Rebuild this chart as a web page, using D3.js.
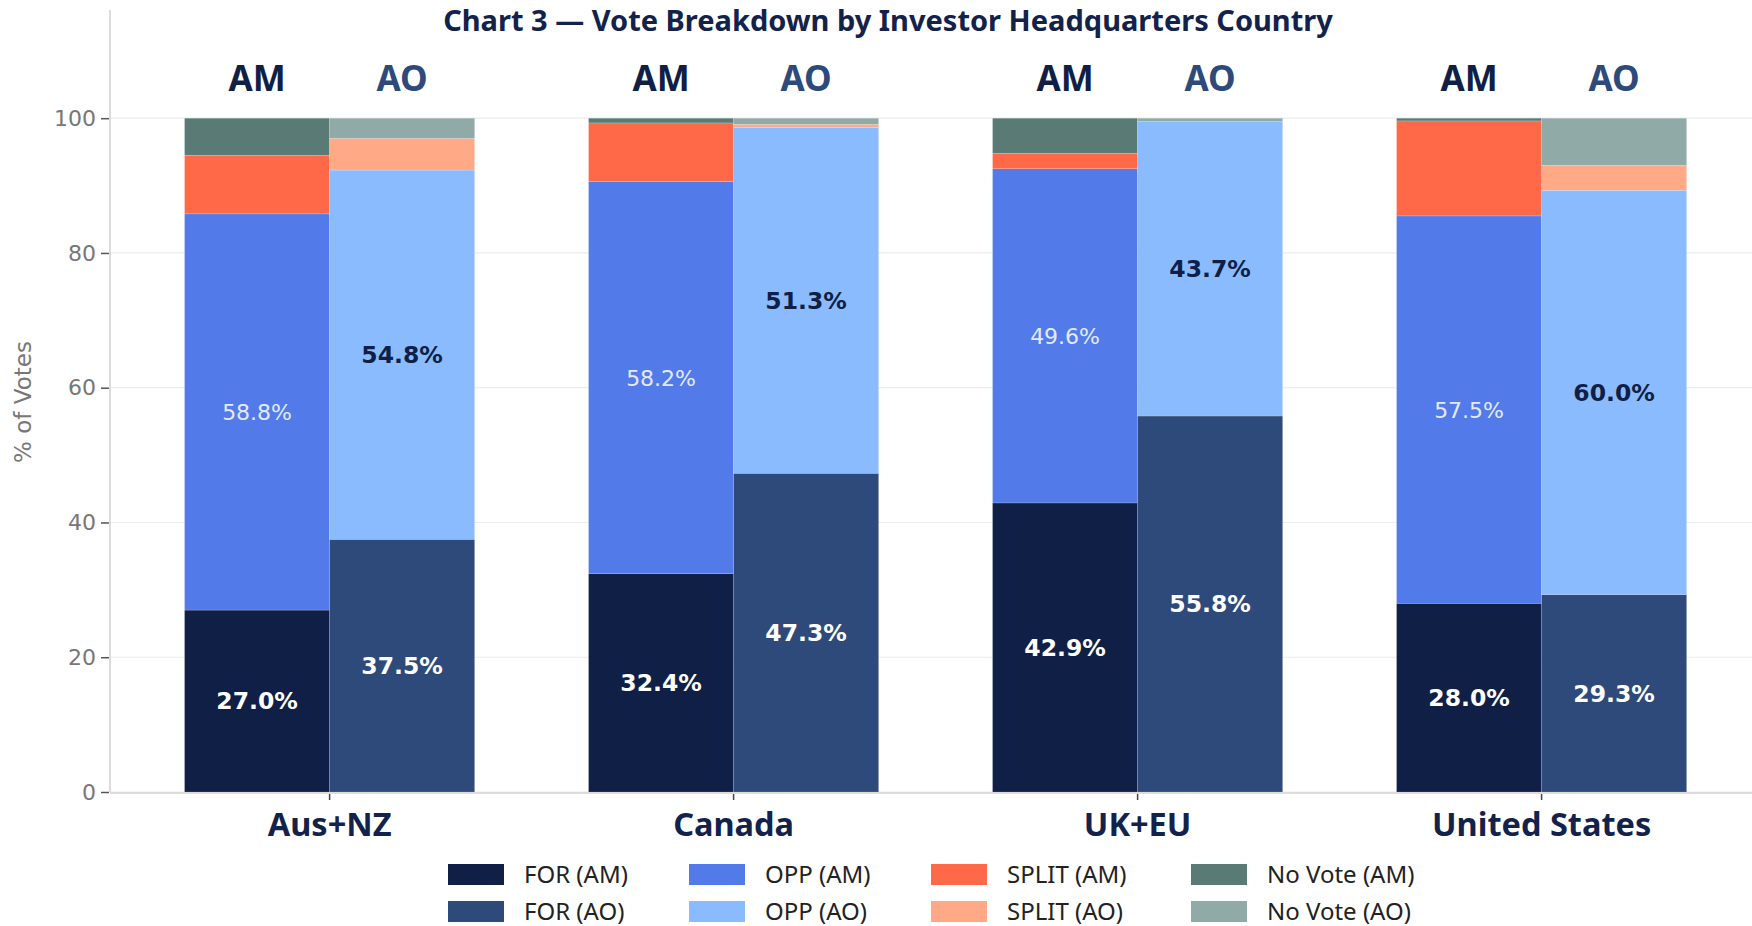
<!DOCTYPE html>
<html>
<head>
<meta charset="utf-8">
<script src="https://cdn.jsdelivr.net/npm/d3@7"></script>
<style>
  html, body { margin: 0; padding: 0; background: #ffffff; }
  svg { display: block; }
</style>
</head>
<body>
<svg id="chart" width="1752" height="926"></svg>
<script>
// Countries (x categories) and the two investor types shown side by side
const countries = ["Aus+NZ", "Canada", "UK+EU", "United States"];
const investorTypes = ["AM", "AO"];

// Vote shares (% of votes) per country, asset managers (AM)
const forAM    = [27.0, 32.4, 42.9, 28.0];
const oppAM    = [58.8, 58.2, 49.6, 57.5];
const splitAM  = [8.7, 8.7, 2.3, 14.1];
const noVoteAM = [5.5, 0.7, 5.2, 0.4];

// Vote shares (% of votes) per country, asset owners (AO)
const forAO    = [37.5, 47.3, 55.8, 29.3];
const oppAO    = [54.8, 51.3, 43.7, 60.0];
const splitAO  = [4.7, 0.5, 0.0, 3.7];
const noVoteAO = [3.0, 0.9, 0.5, 7.0];

const yTicks = [0, 20, 40, 60, 80, 100];
const legendLabels = ["FOR (AM)", "OPP (AM)", "SPLIT (AM)", "No Vote (AM)",
                      "FOR (AO)", "OPP (AO)", "SPLIT (AO)", "No Vote (AO)"];

const colors = {
  FOR:   { AM: "#0f1f45", AO: "#2e4a7a" },
  OPP:   { AM: "#527be9", AO: "#8bbbff" },
  SPLIT: { AM: "#ff6947", AO: "#ffa987" },
  NOVOTE:{ AM: "#5a7a76", AO: "#90aaa8" }
};

const series = {
  AM: [["FOR", forAM], ["OPP", oppAM], ["SPLIT", splitAM], ["NOVOTE", noVoteAM]],
  AO: [["FOR", forAO], ["OPP", oppAO], ["SPLIT", splitAO], ["NOVOTE", noVoteAO]]
};

const svg = d3.select("#chart");
const W = 1752, H = 926;
const axisX = 110;
const y0 = 792;

const x = d3.scaleBand().domain(countries).range([127.6, 1743.6])
  .paddingInner(0.282).paddingOuter(0.141);
const xi = d3.scaleBand().domain(investorTypes).range([0, x.bandwidth()]).padding(0);
const y = d3.scaleLinear().domain([0, 100]).range([y0, y0 - 673.8]);

// Gridlines
svg.append("g").selectAll("line").data(yTicks).join("line")
  .attr("x1", axisX).attr("x2", W)
  .attr("y1", d => y(d)).attr("y2", d => y(d))
  .attr("stroke", "#ececec").attr("stroke-width", 1.2);

// Stacked bars
const groups = svg.append("g").selectAll("g").data(countries).join("g")
  .attr("transform", d => `translate(${x(d)},0)`);

countries.forEach((c, ci) => {
  const g = groups.filter(d => d === c);
  investorTypes.forEach(t => {
    let base = 0;
    series[t].forEach(([kind, vals]) => {
      const v = vals[ci];
      if (v > 0) {
        g.append("rect")
          .attr("x", xi(t))
          .attr("width", xi.bandwidth())
          .attr("y", y(base + v))
          .attr("height", y(base) - y(base + v))
          .attr("fill", colors[kind][t])
          .attr("stroke", "rgba(255,255,255,0.25)")
          .attr("stroke-width", 0.6);
      }
      // value labels for FOR and OPP segments
      if (kind === "FOR" || kind === "OPP") {
        let fill, weight, size;
        if (kind === "FOR") { fill = "#ffffff"; weight = 700; size = 23.5; }
        else if (t === "AM") { fill = "#e3eaff"; weight = 400; size = 22; }
        else { fill = "#0f1f45"; weight = 700; size = 23.5; }
        g.append("text")
          .attr("x", xi(t) + xi.bandwidth() / 2)
          .attr("y", y(base + v / 2))
          .attr("dy", "0.36em")
          .attr("text-anchor", "middle")
          .attr("font-family", "'DejaVu Sans', sans-serif")
          .attr("font-size", size)
          .attr("font-weight", weight)
          .attr("fill", fill)
          .text(v.toFixed(1) + "%");
      }
      base += v;
    });
    // AM / AO header above each bar
    g.append("text")
      .attr("x", xi(t) + xi.bandwidth() / 2)
      .attr("y", 91)
      .attr("text-anchor", "middle")
      .attr("font-family", "'Noto Sans', 'Open Sans', sans-serif")
      .attr("font-size", 35)
      .attr("font-weight", 700)
      .attr("fill", t === "AM" ? "#0f1f45" : "#2e4a7a")
      .text(t);
  });
});

// Y axis line
svg.append("line").attr("x1", axisX).attr("x2", axisX).attr("y1", 10).attr("y2", y0)
  .attr("stroke", "#dcdcdc").attr("stroke-width", 2);

// Y ticks
const yAxis = svg.append("g").attr("transform", `translate(${axisX - 1},0)`)
  .call(d3.axisLeft(y).tickValues(yTicks).tickSize(8).tickPadding(5).tickFormat(d3.format("d")));
yAxis.select(".domain").remove();
yAxis.selectAll(".tick line").attr("stroke", "#555").attr("stroke-width", 1.5);
yAxis.selectAll(".tick text").attr("font-family", "'DejaVu Sans', sans-serif")
  .attr("font-size", 22).attr("fill", "#777");

// X axis line
svg.append("line").attr("x1", axisX).attr("x2", W).attr("y1", y0 + 1).attr("y2", y0 + 1)
  .attr("stroke", "#dcdcdc").attr("stroke-width", 2);

// X ticks and category labels
const xAxis = svg.append("g").attr("transform", `translate(0,${y0 + 2})`)
  .call(d3.axisBottom(x).tickSize(6).tickPadding(13));
xAxis.select(".domain").remove();
xAxis.selectAll(".tick line").attr("stroke", "#444").attr("stroke-width", 1.5);
xAxis.selectAll(".tick text")
  .attr("font-family", "'Noto Sans', 'Open Sans', sans-serif")
  .attr("font-size", 32.5).attr("font-weight", 700).attr("fill", "#13224a");

// Y axis title
svg.append("text")
  .attr("transform", `translate(31,402) rotate(-90)`)
  .attr("text-anchor", "middle")
  .attr("font-family", "'DejaVu Sans', sans-serif")
  .attr("font-size", 23).attr("fill", "#777")
  .text("% of Votes");

// Chart title
svg.append("text")
  .attr("x", 888).attr("y", 31)
  .attr("text-anchor", "middle")
  .attr("font-family", "'Noto Sans', 'Open Sans', sans-serif")
  .attr("font-size", 29).attr("font-weight", 700).attr("fill", "#13224a")
  .text("Chart 3 \u2014 Vote Breakdown by Investor Headquarters Country");

// Legend
const legendKinds = ["FOR", "OPP", "SPLIT", "NOVOTE"];
const legendX = [448, 689, 931, 1191];
const legendY = [864, 901];
const legend = svg.append("g");
legendLabels.forEach((lab, i) => {
  const col = i % 4, row = Math.floor(i / 4);
  const t = row === 0 ? "AM" : "AO";
  legend.append("rect")
    .attr("x", legendX[col]).attr("y", legendY[row])
    .attr("width", 56).attr("height", 21)
    .attr("fill", colors[legendKinds[col]][t]);
  legend.append("text")
    .attr("x", legendX[col] + 76).attr("y", legendY[row] + 10.5)
    .attr("dy", "0.35em")
    .attr("font-family", "'Noto Sans', 'Open Sans', sans-serif")
    .attr("font-size", 24).attr("fill", "#222")
    .text(lab);
});
</script>
</body>
</html>
